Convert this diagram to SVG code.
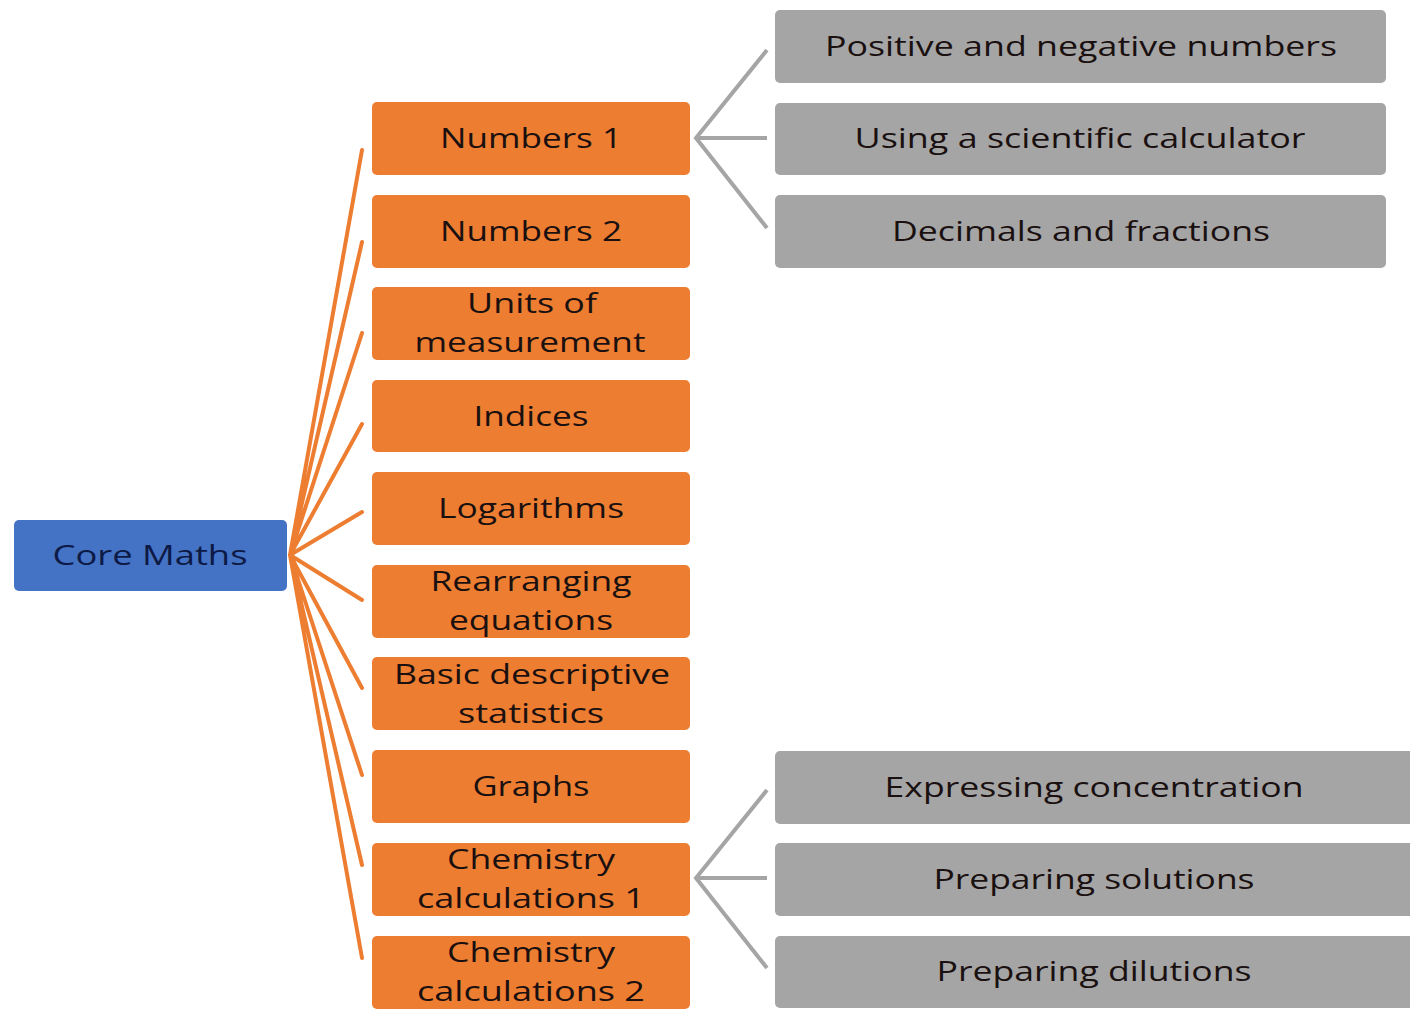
<svg xmlns="http://www.w3.org/2000/svg" width="1410" height="1010" viewBox="0 0 1410 1010">
<style>
.root{fill:#4472C4}
.o{fill:#ED7D31}
.g{fill:#A5A5A5}
text{font-family:"Open Sans","DejaVu Sans",sans-serif;font-size:28px;font-weight:500;fill:#1a1010;text-anchor:middle}
.rt{fill:#0d1a45}
.co{stroke:#ED7D31;stroke-width:4;fill:none;stroke-linecap:round}
.cg{stroke:#A5A5A5;stroke-width:4;fill:none}
</style>
<rect width="1410" height="1010" fill="#ffffff"/>
<g id="connectors">
<path class="co" d="M290 555 L362 150 M290 555 L362 242 M290 555 L362 333 M290 555 L362 424 M290 555 L362 512 M290 555 L362 600 M290 555 L362 688 M290 555 L362 775 M290 555 L362 865 M290 555 L362 958"/>
<path class="cg" d="M767 50 L696 138 L767 228 M696 138 L767 138"/>
<path class="cg" d="M767 790 L696 878 L767 968 M696 878 L767 878"/>
</g>
<g id="core-maths"><rect class="root" x="14" y="520" width="273" height="71" rx="5"/><text class="rt" x="150" y="565" textLength="195" lengthAdjust="spacingAndGlyphs">Core Maths</text></g>
<g id="numbers-1"><rect class="o" x="372" y="102" width="318" height="73" rx="5"/><text x="531" y="148" textLength="182" lengthAdjust="spacingAndGlyphs">Numbers 1</text></g>
<g id="numbers-2"><rect class="o" x="372" y="195" width="318" height="73" rx="5"/><text x="531" y="241" textLength="182" lengthAdjust="spacingAndGlyphs">Numbers 2</text></g>
<g id="units"><rect class="o" x="372" y="287" width="318" height="73" rx="5"/><text x="532" y="313" textLength="130" lengthAdjust="spacingAndGlyphs">Units of</text><text x="530" y="352" textLength="231" lengthAdjust="spacingAndGlyphs">measurement</text></g>
<g id="indices"><rect class="o" x="372" y="380" width="318" height="72" rx="5"/><text x="531" y="426" textLength="115" lengthAdjust="spacingAndGlyphs">Indices</text></g>
<g id="logarithms"><rect class="o" x="372" y="472" width="318" height="73" rx="5"/><text x="531" y="518" textLength="186" lengthAdjust="spacingAndGlyphs">Logarithms</text></g>
<g id="rearranging"><rect class="o" x="372" y="565" width="318" height="73" rx="5"/><text x="531" y="591" textLength="201" lengthAdjust="spacingAndGlyphs">Rearranging</text><text x="531" y="630" textLength="164" lengthAdjust="spacingAndGlyphs">equations</text></g>
<g id="basic-stats"><rect class="o" x="372" y="657" width="318" height="73" rx="5"/><text x="532" y="684" textLength="276" lengthAdjust="spacingAndGlyphs">Basic descriptive</text><text x="531" y="723" textLength="146" lengthAdjust="spacingAndGlyphs">statistics</text></g>
<g id="graphs"><rect class="o" x="372" y="750" width="318" height="73" rx="5"/><text x="531" y="796" textLength="117" lengthAdjust="spacingAndGlyphs">Graphs</text></g>
<g id="chem-1"><rect class="o" x="372" y="843" width="318" height="73" rx="5"/><text x="531" y="869" textLength="168" lengthAdjust="spacingAndGlyphs">Chemistry</text><text x="531" y="908" textLength="228" lengthAdjust="spacingAndGlyphs">calculations 1</text></g>
<g id="chem-2"><rect class="o" x="372" y="936" width="318" height="73" rx="5"/><text x="531" y="962" textLength="168" lengthAdjust="spacingAndGlyphs">Chemistry</text><text x="531" y="1001" textLength="228" lengthAdjust="spacingAndGlyphs">calculations 2</text></g>
<g id="positive-negative"><rect class="g" x="775" y="10" width="611" height="73" rx="5"/><text x="1081" y="56" textLength="512" lengthAdjust="spacingAndGlyphs">Positive and negative numbers</text></g>
<g id="scientific-calculator"><rect class="g" x="775" y="103" width="611" height="72" rx="5"/><text x="1080" y="148" textLength="451" lengthAdjust="spacingAndGlyphs">Using a scientific calculator</text></g>
<g id="decimals-fractions"><rect class="g" x="775" y="195" width="611" height="73" rx="5"/><text x="1081" y="241" textLength="378" lengthAdjust="spacingAndGlyphs">Decimals and fractions</text></g>
<g id="expressing-concentration"><rect class="g" x="775" y="751" width="645" height="73" rx="5"/><text x="1094" y="797" textLength="419" lengthAdjust="spacingAndGlyphs">Expressing concentration</text></g>
<g id="preparing-solutions"><rect class="g" x="775" y="843" width="645" height="73" rx="5"/><text x="1094" y="889" textLength="321" lengthAdjust="spacingAndGlyphs">Preparing solutions</text></g>
<g id="preparing-dilutions"><rect class="g" x="775" y="936" width="645" height="72" rx="5"/><text x="1094" y="981" textLength="315" lengthAdjust="spacingAndGlyphs">Preparing dilutions</text></g>
</svg>
